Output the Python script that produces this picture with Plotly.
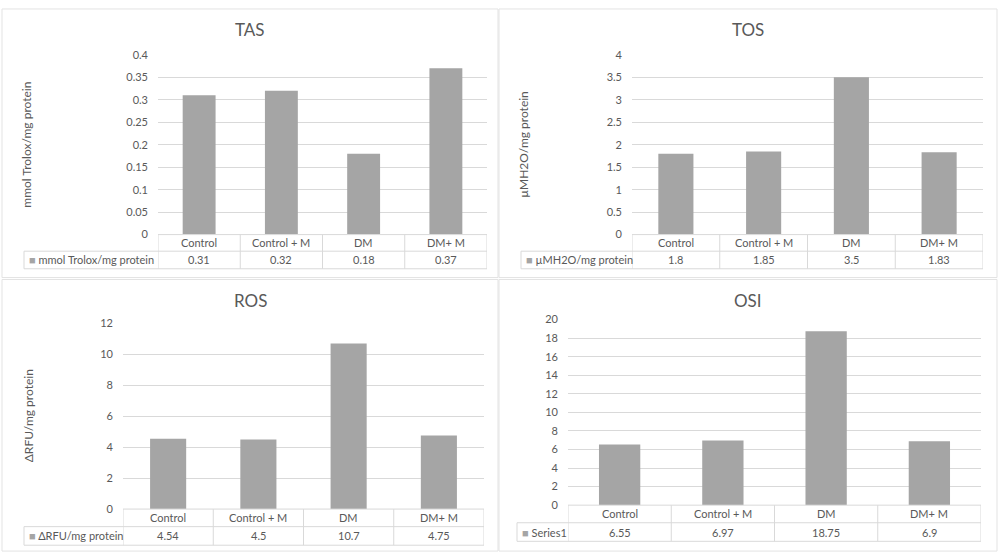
import plotly.graph_objects as go

# ---------------- data ----------------
categories = ["Control", "Control + M", "DM", "DM+ M"]

tas_values = [0.31, 0.32, 0.18, 0.37]
tos_values = [1.8, 1.85, 3.5, 1.83]
ros_values = [4.54, 4.5, 10.7, 4.75]
osi_values = [6.55, 6.97, 18.75, 6.9]

titles = ["TAS", "TOS", "ROS", "OSI"]
series_names = ["mmol Trolox/mg protein", "µMH2O/mg protein", "ΔRFU/mg protein", "Series1"]
axis_titles = ["mmol Trolox/mg protein", "µMH2O/mg protein", "ΔRFU/mg protein", None]
y_max = [0.4, 4, 12, 20]
y_step = [0.05, 0.5, 2, 2]

# ---------------- layout (pixels) ----------------
W, H = 1001, 560
FONT = "Lato"
TXT = "#595959"
GRID = "#D9D9D9"
BAR = "#A5A5A5"
BORDER = "#D9D9D9"

panels = [
    # panel box, plot area, table rows, legend-cell left, axis-title x
    dict(box=(2, 2, 498, 277), plot=(158, 49, 487, 233), rows=(250, 268), leg=24, ytx=27),
    dict(box=(499, 2, 997, 277), plot=(632, 49, 983, 233), rows=(250, 268), leg=521, ytx=524),
    dict(box=(2, 279, 498, 557), plot=(123, 324, 484, 514), rows=(532, 551), leg=24, ytx=28),
    dict(box=(499, 279, 997, 557), plot=(568, 320, 981, 510), rows=(528, 547), leg=517, ytx=None),
]
all_values = [tas_values, tos_values, ros_values, osi_values]


def px(x):
    return x / W


def py(y):
    return 1 - y / H


fig = go.Figure()
shapes = []
annotations = []
layout_axes = {}

for i, (p, vals) in enumerate(zip(panels, all_values)):
    n = i + 1
    xa = "x" if n == 1 else f"x{n}"
    ya = "y" if n == 1 else f"y{n}"
    xkey = "xaxis" if n == 1 else f"xaxis{n}"
    ykey = "yaxis" if n == 1 else f"yaxis{n}"
    x0, y0, x1, y1 = p["plot"]
    r1, r2 = p["rows"]

    fig.add_trace(go.Bar(x=categories, y=vals, xaxis=xa, yaxis=ya,
                         marker=dict(color=BAR, line=dict(width=0)),
                         name=series_names[i], showlegend=False, hoverinfo="x+y"))

    layout_axes[xkey] = dict(domain=[px(x0), px(x1)], anchor=ya, range=[-0.5, len(categories) - 0.5],
                             showticklabels=False, showgrid=False, zeroline=False, showline=False,
                             ticks="", fixedrange=True, type="category")
    layout_axes[ykey] = dict(domain=[py(y1), py(y0)], anchor=xa, range=[0, y_max[i]], dtick=y_step[i],
                             tick0=0, showgrid=True, gridcolor=GRID, gridwidth=1, zeroline=False,
                             showline=False, ticks="", ticklabelstandoff=9, fixedrange=True,
                             tickfont=dict(family=FONT, size=11, color=TXT))

    # panel border
    bx0, by0, bx1, by1 = p["box"]
    shapes.append(dict(type="rect", xref="paper", yref="paper", x0=px(bx0), x1=px(bx1),
                       y0=py(by1), y1=py(by0), line=dict(color="#E3E3E3", width=1), layer="below"))

    # title
    annotations.append(dict(text=titles[i], xref="paper", yref="paper", x=px((bx0 + bx1) / 2),
                            y=py(by0 + 21), xanchor="center", yanchor="middle", showarrow=False,
                            font=dict(family=FONT, size=17, color=TXT)))

    # axis title
    if axis_titles[i]:
        annotations.append(dict(text=axis_titles[i], xref="paper", yref="paper", x=px(p["ytx"]),
                                y=py((y0 + y1) / 2), xanchor="center", yanchor="middle", textangle=-90,
                                showarrow=False, font=dict(family=FONT, size=12, color=TXT)))

    line = dict(color=BORDER, width=1)
    # horizontal table lines
    shapes.append(dict(type="line", xref="paper", yref="paper", x0=px(x0), x1=px(x1),
                       y0=py(y1), y1=py(y1), line=line))
    for ry in (r1, r2):
        shapes.append(dict(type="line", xref="paper", yref="paper", x0=px(p["leg"]), x1=px(x1),
                           y0=py(ry), y1=py(ry), line=line))
    # vertical table lines at category boundaries
    for k in range(len(categories) + 1):
        shapes.append(dict(type="line", xref=xa, yref="paper", x0=k - 0.5, x1=k - 0.5,
                           y0=py(y1), y1=py(r2), line=line))
    shapes.append(dict(type="line", xref="paper", yref="paper", x0=px(p["leg"]), x1=px(p["leg"]),
                       y0=py(r1), y1=py(r2), line=line))

    # table text
    for c, v in zip(categories, vals):
        annotations.append(dict(text=c, xref=xa, yref="paper", x=c, y=py((y1 + r1) / 2),
                                xanchor="center", yanchor="middle", showarrow=False,
                                font=dict(family=FONT, size=11, color=TXT)))
        annotations.append(dict(text=str(v), xref=xa, yref="paper", x=c, y=py((r1 + r2) / 2),
                                xanchor="center", yanchor="middle", showarrow=False,
                                font=dict(family=FONT, size=11, color=TXT)))
    annotations.append(dict(text=f"<span style='color:{BAR}'>■</span> {series_names[i]}",
                            xref="paper", yref="paper", x=px(p["leg"] + 3), y=py((r1 + r2) / 2),
                            xanchor="left", yanchor="middle", showarrow=False,
                            font=dict(family=FONT, size=11, color=TXT)))

fig.update_layout(width=W, height=H, margin=dict(l=0, r=0, t=0, b=0), autosize=False,
                  paper_bgcolor="white", plot_bgcolor="white", bargap=0.6,
                  shapes=shapes, annotations=annotations, **layout_axes)

fig.write_html(
    "out.html",
    config={"displayModeBar": False},
    post_script="document.documentElement.style.margin='0';document.body.style.margin='0';"
                "document.body.style.padding='0';document.body.style.overflow='hidden';",
)
